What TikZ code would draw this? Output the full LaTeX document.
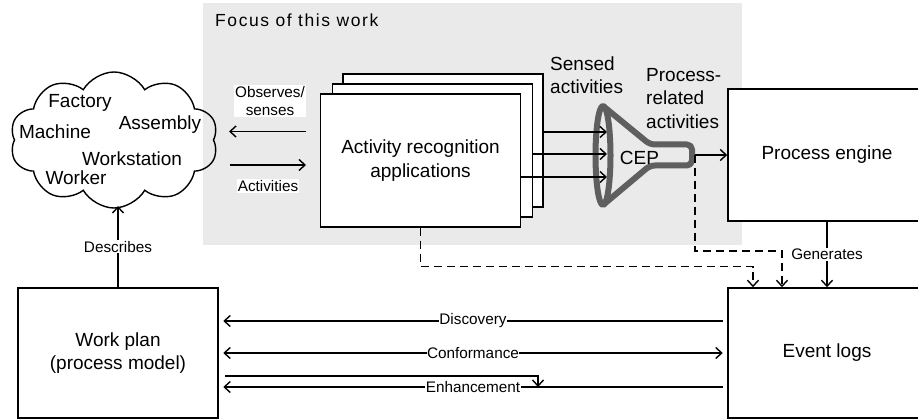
\documentclass[tikz,border=0pt]{standalone}
\usepackage{fontspec}
\setmainfont{Liberation Sans}
\newfontfamily\focusfont[LetterSpace=9]{Liberation Sans}
\usetikzlibrary{arrows.meta,shapes.symbols}
\definecolor{focusgray}{HTML}{EAEAEA}
\definecolor{funnelgray}{HTML}{5F5F5F}
\begin{document}
\begin{tikzpicture}[x=1pt,y=-1pt,
  bigtxt/.style={font=\fontsize{19}{23.5}\selectfont, align=center},
  lbl/.style={font=\fontsize{15.3}{18.5}\selectfont, fill=white, inner sep=1pt, align=center},
  box/.style={draw, line width=1.5pt, fill=white, font=\fontsize{19}{23.5}\selectfont, align=center},
  con/.style={line width=1.5pt, -{Straight Barb[length=6pt,width=11pt,line width=1.4pt]}},
  dcon/.style={con, dash pattern=on 8pt off 5pt},
  both/.style={line width=1.5pt, {Straight Barb[length=6pt,width=11pt,line width=1.4pt]}-{Straight Barb[length=6pt,width=11pt,line width=1.4pt]}},
  cloudtxt/.style={font=\fontsize{19}{23}\selectfont, inner sep=0pt}
]
\useasboundingbox (0,0) rectangle (918,419);
% focus area
\fill[focusgray] (203,3) rectangle (742,245);
\node[anchor=west, font=\focusfont\fontsize{17.5}{21}\selectfont, inner sep=0pt] (focus) at (215,20) {Focus of this work};

% cloud
\node[cloud, draw, line width=1.4pt, cloud puffs=10, cloud puff arc=120, aspect=1.55,
      minimum width=208pt, minimum height=136pt, inner sep=0pt] (cloud) at (114,140) {};
\node[cloudtxt] (factory) at (80,103) {Factory};
\node[cloudtxt] (machine) at (55,132) {Machine};
\node[cloudtxt] (assembly) at (160,125) {Assembly};
\node[cloudtxt] (workst) at (132,159) {Workstation};
\node[cloudtxt] (worker) at (76,178) {Worker};

% stacked application boxes
\node[box, minimum width=200pt, minimum height=133pt] (back) at (443,140.5) {};
\node[box, minimum width=200pt, minimum height=133pt] (middle) at (432.5,150.5) {};
\node[box, minimum width=200pt, minimum height=133pt] (front) at (420.5,160.5) {Activity recognition\\applications};

% process engine / event logs / work plan
\node[box, minimum width=198pt, minimum height=132pt] (pe) at (827,155) {Process engine};
\node[box, minimum width=198pt, minimum height=130pt] (el) at (827,353) {Event logs};
\node[box, minimum width=200pt, minimum height=130pt] (wp) at (118,353) {Work plan\\(process model)};

% funnel
\coordinate (f1) at (607,132);
\coordinate (f2) at (607,154);
\coordinate (f3) at (607,177);
\coordinate (tube) at (695,155);
\draw[funnelgray, line width=6pt, line join=round] (603,155.5) ellipse [x radius=7.5, y radius=49.5];
\draw[funnelgray, line width=6pt, line join=round, rounded corners=5pt]
  (603,106) -- (650,144.5) -- (692,144.5) -- (692,165.5) -- (650,165.5) -- (603,205);
\node[bigtxt, inner sep=0pt] (cep) at (639.5,158) {CEP};

% labels near funnel
\node[anchor=west, font=\fontsize{19}{23.5}\selectfont, align=left, inner sep=0pt] (sensed) at (550,75) {Sensed\\activities};
\node[anchor=west, font=\fontsize{19}{23.5}\selectfont, align=left, inner sep=0pt] (procrel) at (646,98.5) {Process-\\related\\activities};

% sensed activity arrows
\draw[con] (back.east |- f1) -- (f1);
\draw[con] (middle.east |- f2) -- (f2);
\draw[con] (front.east |- f3) -- (f3);
\draw[con] (tube) -- (pe.west |- tube);

% observes / activities
\coordinate (o1) at (306,131.5);
\coordinate (o2) at (229,131.5);
\coordinate (a1) at (230,165);
\coordinate (a2) at (306,165);
\draw[con] (o1) -- (o2);
\draw[con] (a1) -- (a2);
\node[lbl] (obs) at (270,101) {Observes/\\senses};
\node[lbl] (act) at (268,186) {Activities};

% describes
\coordinate (cb) at (118,206);
\draw[con] (wp.north -| cb) -- node[lbl, pos=0.5]{Describes} (cb);

% dashed connectors
\coordinate (d1) at (753,266.7);
\coordinate (d2) at (782,251);
\draw[dcon] (front.south) |- (d1) -- (d1 |- el.north);
\draw[dcon] (tube) |- (d2) -- (d2 |- el.north);
\draw[con] (pe.south) -- node[lbl, pos=0.5]{Generates} (el.north);

% bottom arrows
\coordinate (y1) at (0,321);
\coordinate (y2) at (0,353);
\coordinate (y3) at (0,387);
\draw[con, shorten >=4.5pt, shorten <=4.5pt] (el.west |- y1) -- node[lbl, inner sep=0.5pt]{Discovery} (wp.east |- y1);
\draw[both, shorten >=4.5pt, shorten <=4.5pt] (el.west |- y2) -- node[lbl, inner sep=0.5pt]{Conformance} (wp.east |- y2);
\draw[con, shorten >=4.5pt, shorten <=4.5pt] (el.west |- y3) -- node[lbl, inner sep=0.5pt]{Enhancement} (wp.east |- y3);
\coordinate (h1) at (225,376);
\coordinate (h2) at (538,376);
\draw[con] (h1) -- (h2) -- (h2 |- y3);
\end{tikzpicture}
\end{document}
